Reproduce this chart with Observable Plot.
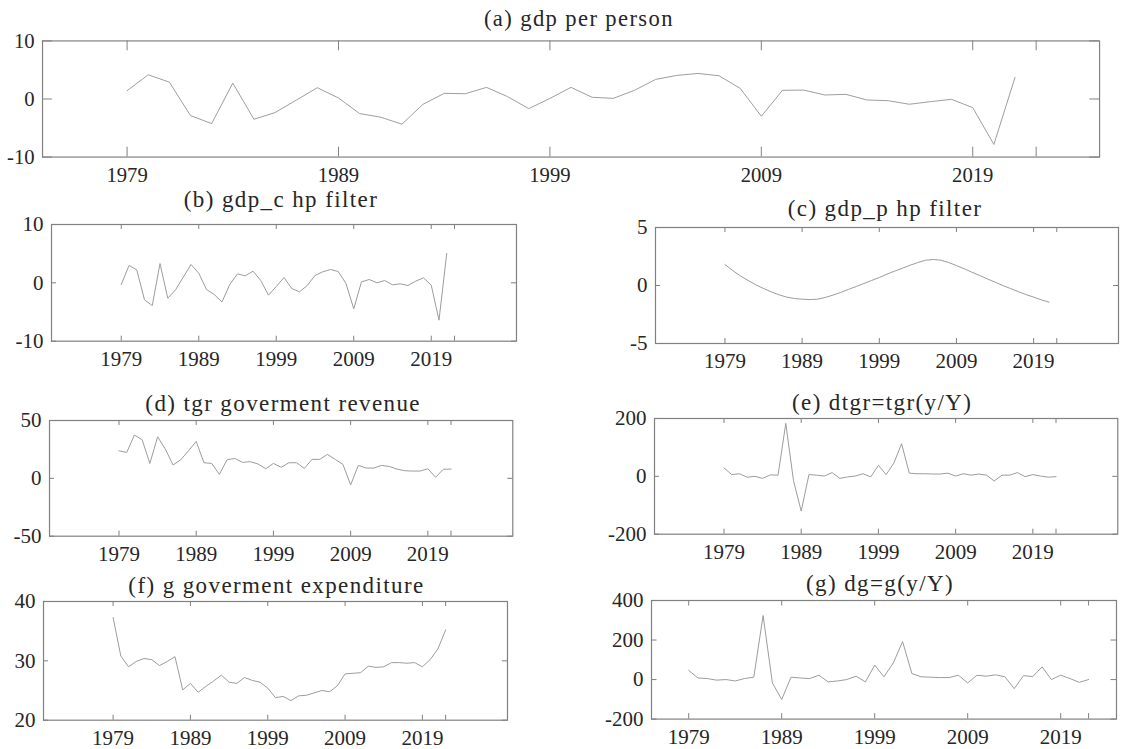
<!DOCTYPE html>
<html>
<head>
<meta charset="utf-8">
<script src="https://cdn.jsdelivr.net/npm/d3@7"></script>
<script src="https://cdn.jsdelivr.net/npm/@observablehq/plot@0.6"></script>
<style>
  html, body { margin: 0; padding: 0; background: #fff; }
  #chart { position: relative; width: 1124px; height: 749px; background: #fff; overflow: hidden; }
  #chart svg { position: absolute; background: transparent !important; overflow: visible; }
  #chart svg, #chart svg text { font-family: "Liberation Serif", "DejaVu Serif", serif !important; }
  #chart g[aria-label="text"] text { letter-spacing: 1.4px; }
</style>
</head>
<body>
<div id="chart"></div>
<script>
// ---------- data ----------
const yearsA = d3.range(1979, 2022); // 1979..2021
const yearsB = d3.range(1979, 2023); // 1979..2022

const gdpPerPerson = [1.43, 4.17, 2.9, -2.86, -4.23, 2.74, -3.49, -2.34, -0.2, 1.94,
  0.17, -2.51, -3.14, -4.34, -0.91, 0.97, 0.91, 2.0, 0.4, -1.66,
  0.1, 2.0, 0.29, 0.11, 1.49, 3.37, 4.06, 4.4, 4.0, 1.83,
  -2.97, 1.49, 1.54, 0.69, 0.8, -0.17, -0.29, -0.91, -0.46, -0.06,
  -1.49, -7.83, 3.71];

const gdpCycle = [-0.29, 2.97, 2.23, -2.91, -3.89, 3.31, -2.63, -1.2, 0.97, 3.14,
  1.66, -1.14, -2.0, -3.26, -0.29, 1.54, 1.2, 2.0, 0.4, -2.11,
  -0.63, 0.91, -0.97, -1.54, -0.46, 1.26, 1.89, 2.29, 1.94, -0.11,
  -4.46, 0.17, 0.57, 0.0, 0.4, -0.34, -0.17, -0.46, 0.29, 0.86,
  -0.4, -6.4, 5.03];

const gdpTrend = [1.81, 1.29, 0.83, 0.43, 0.06, -0.26, -0.55, -0.8, -1.0, -1.12,
  -1.18, -1.21, -1.18, -1.03, -0.83, -0.6, -0.34, -0.09, 0.17, 0.43,
  0.69, 0.98, 1.24, 1.49, 1.75, 1.98, 2.18, 2.24, 2.18, 1.98,
  1.72, 1.44, 1.15, 0.86, 0.57, 0.29, 0.0, -0.26, -0.52, -0.78,
  -1.0, -1.24, -1.44];

const tgr = [23.8, 22.4, 37.4, 33.3, 12.9, 35.9, 25.3, 11.5, 16.1, 23.8,
  31.9, 13.5, 12.9, 3.4, 16.1, 17.2, 13.8, 14.4, 12.4, 8.3,
  12.9, 9.5, 13.5, 13.5, 8.6, 16.4, 16.4, 20.7, 16.4, 12.1,
  -5.7, 11.2, 8.9, 8.9, 11.2, 10.3, 8.0, 6.6, 6.3, 6.3,
  8.3, 0.9, 7.8, 8.0];

const dtgr = [29, 6, 9, -3, 0, -7, 5, 4, 183, -15,
  -120, 6, 4, 1, 13, -7, -2, 1, 9, -2,
  38, 6, 46, 113, 11, 9, 9, 8, 8, 11,
  1, 9, 4, 8, 4, -16, 4, 4, 13, -1,
  6, 1, -3, -1];

const gExp = [37.3, 30.8, 29.0, 29.9, 30.4, 30.2, 29.2, 29.9, 30.7, 25.1,
  26.2, 24.7, 25.7, 26.6, 27.6, 26.4, 26.2, 27.2, 26.7, 26.4,
  25.4, 23.8, 24.0, 23.3, 24.1, 24.2, 24.6, 25.0, 24.8, 25.8,
  27.8, 27.9, 28.0, 29.1, 28.9, 29.0, 29.7, 29.7, 29.6, 29.7,
  29.0, 30.2, 32.0, 35.2];

const dg = [46, 8, 5, -3, 0, -7, 5, 12, 324, -17,
  -101, 12, 8, 5, 22, -12, -7, 0, 17, -12,
  73, 14, 84, 192, 30, 14, 12, 10, 10, 22,
  -17, 22, 17, 24, 14, -46, 20, 15, 64, 0,
  22, 5, -14, 0];

const xTickLabels = [1979, 1989, 1999, 2009, 2019];
const xTickMarks = [1979, 1989, 1999, 2009, 2019, 2022];

const titles = {
  a: "(a) gdp per person",
  b: "(b) gdp_c hp filter",
  c: "(c) gdp_p hp filter",
  d: "(d) tgr goverment revenue",
  e: "(e) dtgr=tgr(y/Y)",
  f: "(f) g goverment expenditure",
  g: "(g) dg=g(y/Y)"
};

// ---------- styling ----------
const AXIS = "#808080";
const LINE = "#9c9c9c";
const TEXT = "#262626";
const FONT = "Liberation Serif";

// ---------- layout (frame edges in page pixels) ----------
const panels = [
  {key: "a", years: yearsA, values: gdpPerPerson, xd: [1975, 2025], yd: [-10, 10], yt: [-10, 0, 10],
   L: 43.3, R: 1117.3, T: 40.7, B: 158.7, tl: 10, tdy: -23, tdx: 8},
  {key: "b", years: yearsA, values: gdpCycle, xd: [1970, 2030], yd: [-10, 10], yt: [-10, 0, 10],
   L: 51, R: 516, T: 224, B: 340.7, tl: 5, tdy: -24.4, tdx: -3},
  {key: "c", years: yearsA, values: gdpTrend, xd: [1970, 2030], yd: [-5, 5], yt: [-5, 0, 5],
   L: 655, R: 1118, T: 226.7, B: 342.7, tl: 5, tdy: -18.7, tdx: -2},
  {key: "d", years: yearsB, values: tgr, xd: [1970, 2030], yd: [-50, 50], yt: [-50, 0, 50],
   L: 49, R: 512.3, T: 420, B: 535.7, tl: 5, tdy: -16.7, tdx: 2},
  {key: "e", years: yearsB, values: dtgr, xd: [1970, 2030], yd: [-200, 200], yt: [-200, 0, 200],
   L: 654, R: 1117.3, T: 418.3, B: 534, tl: 5, tdy: -16.3, tdx: -4},
  {key: "f", years: yearsB, values: gExp, xd: [1970, 2030], yd: [20, 40], yt: [20, 30, 40],
   L: 43.3, R: 507.3, T: 601.3, B: 720, tl: 5, tdy: -16, tdx: 1},
  {key: "g", years: yearsB, values: dg, xd: [1975, 2025], yd: [-200, 400], yt: [-200, 0, 200, 400],
   L: 650.7, R: 1115.7, T: 599.7, B: 718.3, tl: 5.5, tdy: -17, tdx: -4}
];

const mL = 62, mR = 6, mT = 36, mB = 34;
const container = document.getElementById("chart");

for (const p of panels) {
  const innerW = p.R - p.L, innerH = p.B - p.T;
  const data = p.years.map((yr, i) => ({year: yr, value: p.values[i]}));
  const svg = Plot.plot({
    width: innerW + mL + mR,
    height: innerH + mT + mB,
    marginLeft: mL, marginRight: mR, marginTop: mT, marginBottom: mB,
    style: {background: "transparent", overflow: "visible", fontFamily: FONT, fontSize: "21px", color: TEXT},
    x: {domain: p.xd},
    y: {domain: p.yd},
    marks: [
      Plot.line(data, {x: "year", y: "value", stroke: LINE, strokeWidth: 1}),
      Plot.tickX(xTickMarks, {x: d => d, insetTop: innerH - p.tl, stroke: AXIS}),
      Plot.tickX(xTickMarks, {x: d => d, insetBottom: innerH - p.tl, stroke: AXIS}),
      Plot.tickY(p.yt, {y: d => d, insetRight: innerW - p.tl, stroke: AXIS}),
      Plot.tickY(p.yt, {y: d => d, insetLeft: innerW - p.tl, stroke: AXIS}),
      Plot.frame({stroke: AXIS, strokeWidth: 1.2}),
      Plot.axisX(xTickLabels, {tickSize: 0, tickPadding: 10, fontSize: 21, tickFormat: d => String(d), label: null, fill: TEXT}),
      Plot.axisY(p.yt, {tickSize: 0, tickPadding: 8, fontSize: 21, tickFormat: d => String(d), label: null, fill: TEXT}),
      Plot.text([titles[p.key]], {frameAnchor: "top", dx: p.tdx, dy: p.tdy, fontSize: 23, fill: TEXT, lineAnchor: "middle"})
    ]
  });
  svg.setAttribute("font-family", FONT);
  svg.style.left = (p.L - mL) + "px";
  svg.style.top = (p.T - mT) + "px";
  container.appendChild(svg);
}
</script>
</body>
</html>
